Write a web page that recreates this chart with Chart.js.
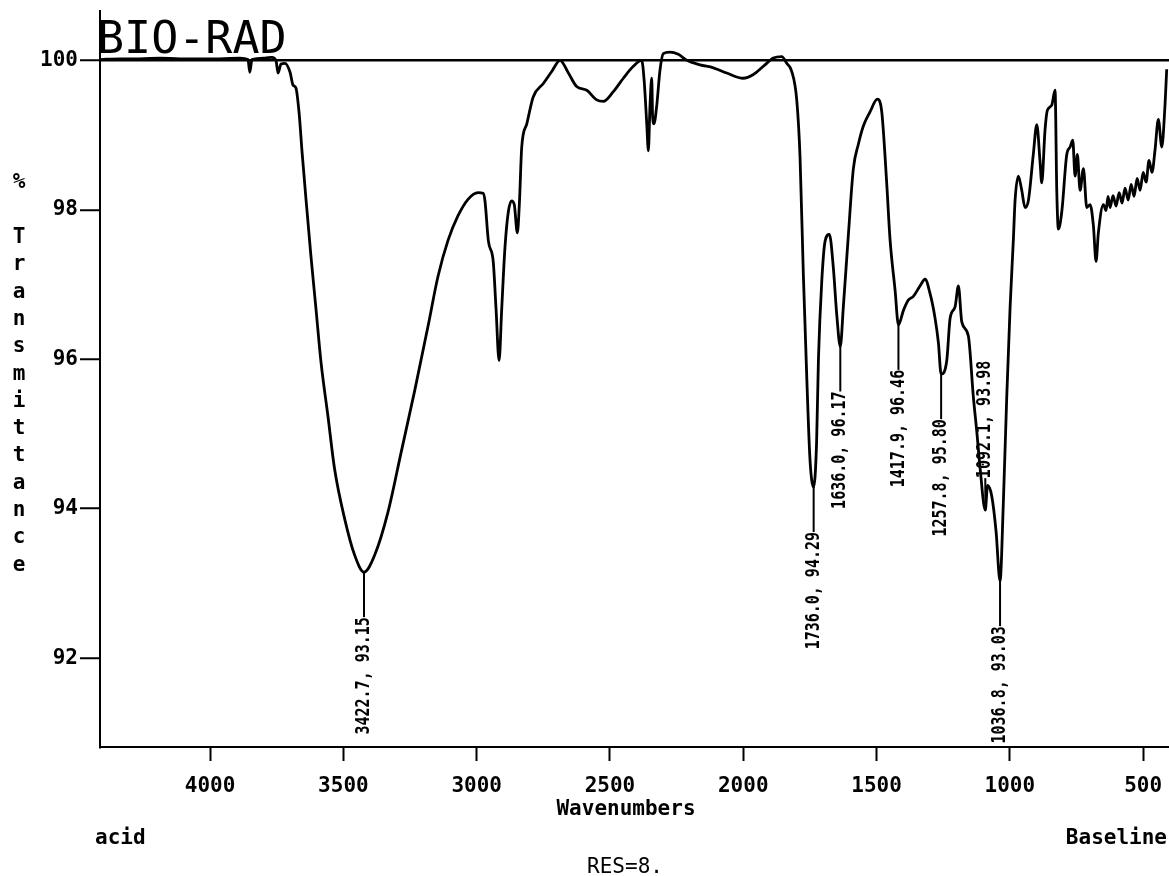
<!DOCTYPE html>
<html>
<head>
<meta charset="utf-8">
<title>IR spectrum – acid</title>
<script src="https://cdn.jsdelivr.net/npm/chart.js@4.4.1/dist/chart.umd.min.js"></script>
<style>
  html, body { margin: 0; padding: 0; background: #fff; }
  canvas { display: block; }
</style>
</head>
<body>
<canvas id="spectrum" width="1169" height="876"></canvas>
<script>
// Spectrum samples: wavenumber (cm-1) and % transmittance
const wavenumbers = [
  4413, 4338, 4263, 4188, 4113, 4038, 3963, 3888, 3858, 3851, 3843, 3794, 3768, 3753, 3745, 3734,
  3719, 3700, 3689, 3678, 3666, 3655, 3640, 3622, 3603, 3584, 3558, 3533, 3495, 3458, 3422.7, 3382.5,
  3333, 3283, 3232.5, 3182.6, 3145, 3107.5, 3070, 3032.5, 2995, 2976, 2969, 2956, 2938, 2927.5, 2916,
  2906, 2894, 2881, 2869, 2859, 2847.5, 2840, 2831, 2812, 2788, 2750, 2718.5, 2687.4, 2656, 2625,
  2587, 2550, 2525, 2487.4, 2450, 2412.4, 2381, 2372, 2362, 2356, 2350, 2343.4, 2340, 2335, 2325,
  2312.3, 2300, 2275, 2243.5, 2212, 2162, 2112.3, 2062, 2000, 1962, 1924.7, 1887, 1855.6, 1837, 1818,
  1799.4, 1787, 1774.6, 1762, 1749.6, 1736.0, 1725, 1718, 1705.6, 1693, 1677, 1662, 1649.4, 1636.0,
  1624.6, 1606, 1587, 1568, 1549.6, 1524.5, 1497, 1480.5, 1462, 1449.4, 1430.7, 1417.9, 1399.5, 1381,
  1362, 1337, 1318, 1299.4, 1280.6, 1268, 1257.8, 1236.7, 1224, 1205.6, 1193, 1180.4, 1155.6, 1137,
  1124, 1111.8, 1092.1, 1083.6, 1068, 1051.8, 1036.8, 1024.4, 1011.6, 999, 986.8, 980.5, 968, 955.4,
  943, 930.6, 912, 899, 886.7, 880.4, 868, 859.4, 842.8, 830.4, 824, 818, 805, 786.5, 774, 764, 755.3,
  746.7, 736.6, 724, 711.5, 699, 686.7, 676.6, 668, 649, 639, 631.6, 624, 613, 601.5, 590, 579, 568,
  556, 545, 534, 522.6, 511.4, 500, 489, 478, 466.7, 455.4, 443, 430, 418, 411.6
];
const transmittance = [
  100.01, 100.02, 100.02, 100.03, 100.02, 100.02, 100.02, 100.03, 100.01, 99.84, 100.01, 100.03, 100.04, 100.00, 99.83, 99.95,
  99.96, 99.84, 99.67, 99.63, 99.29, 98.77, 98.13, 97.39, 96.68, 95.96, 95.24, 94.53, 93.86, 93.38, 93.15, 93.38,
  93.95, 94.76, 95.58, 96.44, 97.11, 97.59, 97.92, 98.14, 98.23, 98.22, 98.12, 97.58, 97.31, 96.68, 95.98,
  96.68, 97.49, 97.98, 98.12, 98.07, 97.69, 98.07, 98.84, 99.15, 99.51, 99.69, 99.85, 100.00, 99.83, 99.65,
  99.60, 99.47, 99.45, 99.58, 99.76, 99.92, 100.00, 99.74, 99.15, 98.79, 99.38, 99.76, 99.24, 99.15, 99.38,
  99.87, 100.09, 100.11, 100.08, 100.00, 99.94, 99.90, 99.83, 99.76, 99.81, 99.92, 100.03, 100.05, 99.96, 99.85,
  99.47, 98.70, 97.13, 95.78, 94.65, 94.29, 94.88, 96.00, 97.04, 97.58, 97.67, 97.22, 96.60, 96.17,
  96.70, 97.65, 98.55, 98.88, 99.12, 99.31, 99.48, 99.31, 98.36, 97.60, 96.93, 96.46, 96.65, 96.79,
  96.84, 96.98, 97.07, 96.88, 96.55, 96.22, 95.80, 95.98, 96.55, 96.70, 96.98, 96.50, 96.31, 95.50,
  95.03, 94.55, 93.98, 94.31, 94.17, 93.70, 93.03, 94.08, 95.50, 96.70, 97.60, 98.12, 98.45, 98.26,
  98.03, 98.12, 98.74, 99.14, 98.64, 98.36, 99.07, 99.33, 99.40, 99.60, 98.26, 97.74, 97.98, 98.74, 98.84, 98.93, 98.45,
  98.74, 98.26, 98.55, 98.03, 98.07, 97.79, 97.31, 97.69, 98.07, 97.99, 98.18, 98.03, 98.19, 98.05, 98.23, 98.09, 98.29,
  98.13, 98.34, 98.18, 98.42, 98.26, 98.50, 98.37, 98.66, 98.50, 98.80, 99.21, 98.84, 99.40, 99.88
];

// Axis tick values
const xTicks = [4000, 3500, 3000, 2500, 2000, 1500, 1000, 500];
const yTicks = [92, 94, 96, 98, 100];

// Labelled absorption peaks
const peakWn = [3422.7, 1736.0, 1636.0, 1417.9, 1257.8, 1092.1, 1036.8];
const peakT  = [93.15, 94.29, 96.17, 96.46, 95.80, 93.98, 93.03];

const MONO = '"DejaVu Sans Mono", "Liberation Mono", monospace';

// Vertical peak annotations: a lead line from the peak, then rotated "wavenumber, %T" text
const peakLabels = {
  id: 'peakLabels',
  afterDatasetsDraw(chart, args, opts) {
    const { ctx, scales: { x, y } } = chart;
    ctx.save();
    ctx.strokeStyle = '#000';
    ctx.fillStyle = '#000';
    ctx.lineWidth = 2;
    ctx.font = 'bold 15px ' + MONO;
    peakWn.forEach((wn, i) => {
      const px = x.getPixelForValue(wn);
      const py = y.getPixelForValue(peakT[i]);
      const up = opts.above.includes(i);
      const end = up ? py - opts.upLead : py + opts.lead;
      ctx.beginPath();
      ctx.moveTo(px, py);
      ctx.lineTo(px, end);
      ctx.stroke();
      ctx.save();
      ctx.translate(px, end);
      ctx.rotate(-Math.PI / 2);
      ctx.scale(1, 1.3);
      ctx.textAlign = up ? 'left' : 'right';
      ctx.textBaseline = 'middle';
      ctx.fillText(wn.toFixed(1) + ', ' + peakT[i].toFixed(2), 0, 0);
      ctx.restore();
    });
    ctx.restore();
  }
};

// Header, stacked y title and footer captions
const captions = {
  id: 'captions',
  afterDraw(chart) {
    const { ctx } = chart;
    ctx.save();
    ctx.fillStyle = '#000';
    ctx.textBaseline = 'alphabetic';

    ctx.font = '45px ' + MONO;
    ctx.textAlign = 'left';
    ctx.fillText('BIO-RAD', 97, 53);

    ctx.font = 'bold 21px ' + MONO;
    ctx.textAlign = 'center';
    ctx.textBaseline = 'middle';
    const title = '% Transmittance'.split('');
    title.forEach((ch, i) => ctx.fillText(ch, 19, 183 + i * 27.3));

    ctx.textBaseline = 'alphabetic';
    ctx.fillText('Wavenumbers', 626, 815);
    ctx.textAlign = 'left';
    ctx.fillText('acid', 95, 844);
    ctx.textAlign = 'right';
    ctx.fillText('Baseline', 1167, 844);
    ctx.font = '21px ' + MONO;
    ctx.textAlign = 'center';
    ctx.fillText('RES=8.', 625, 873);
    ctx.restore();
  }
};

const tickFont = { family: MONO, size: 21, weight: 'bold' };

new Chart(document.getElementById('spectrum'), {
  type: 'line',
  data: {
    datasets: [{
      data: wavenumbers.map((w, i) => ({ x: w, y: transmittance[i] })),
      borderColor: '#000',
      borderWidth: 2.8,
      pointRadius: 0,
      cubicInterpolationMode: 'monotone',
      fill: false
    }]
  },
  options: {
    responsive: false,
    animation: false,
    devicePixelRatio: 1,
    layout: { padding: { top: 11, right: 0, bottom: 0, left: 0 } },
    plugins: {
      legend: { display: false },
      tooltip: { enabled: false },
      peakLabels: { above: [5], lead: 45, upLead: 32 }
    },
    scales: {
      x: {
        type: 'linear',
        reverse: true,
        min: 403,
        max: 4413,
        afterBuildTicks: s => { s.ticks = xTicks.map(v => ({ value: v })); },
        afterFit: s => { s.height = 129; s.paddingLeft = 0; s.paddingRight = 0; },
        border: { display: true, color: '#000', width: 2 },
        grid: { drawOnChartArea: false, drawTicks: true, tickLength: 14, tickColor: '#000', tickWidth: 2 },
        ticks: { autoSkip: false, maxRotation: 0, color: '#000', font: tickFont, padding: 13, callback: v => String(v) }
      },
      y: {
        min: 90.81,
        max: 100.66,
        afterBuildTicks: s => { s.ticks = yTicks.map(v => ({ value: v })); },
        afterFit: s => { s.width = 100; s.paddingTop = 0; s.paddingBottom = 0; },
        border: { display: true, color: '#000', width: 2 },
        grid: {
          color: c => (c.tick && c.tick.value === 100 ? '#000' : 'rgba(0,0,0,0)'),
          lineWidth: 2.5,
          drawTicks: true,
          tickLength: 20,
          tickColor: '#000',
          tickWidth: 2
        },
        ticks: { color: '#000', font: tickFont, padding: 2, callback: v => String(v) }
      }
    }
  },
  plugins: [peakLabels, captions]
});
</script>
</body>
</html>
